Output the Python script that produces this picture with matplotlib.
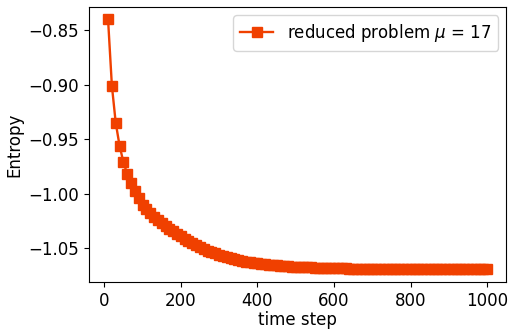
import matplotlib
matplotlib.use('Agg')
import matplotlib.pyplot as plt
import numpy as np

# time steps and entropy values
steps = np.arange(10, 1001, 10)
entropy = [
    -0.8400, -0.9010, -0.9350, -0.9560, -0.9710, -0.9820, -0.9905, -0.9980, -1.0045, -1.0108,
    -1.0145, -1.0180, -1.0213, -1.0243, -1.0272, -1.0299, -1.0324, -1.0347, -1.0369, -1.0390,
    -1.0414, -1.0437, -1.0457, -1.0476, -1.0494, -1.0510, -1.0525, -1.0538, -1.0551, -1.0563,
    -1.0574, -1.0585, -1.0594, -1.0603, -1.0611, -1.0618, -1.0625, -1.0631, -1.0637, -1.0642,
    -1.0646, -1.0651, -1.0654, -1.0658, -1.0661, -1.0664, -1.0667, -1.0669, -1.0672, -1.0674,
    -1.0676, -1.0677, -1.0679, -1.0680, -1.0681, -1.0683, -1.0684, -1.0685, -1.0686, -1.0687,
    -1.0688, -1.0688, -1.0689, -1.0690, -1.0690, -1.0691, -1.0691, -1.0692, -1.0692, -1.0693,
    -1.0693, -1.0693, -1.0694, -1.0694, -1.0694, -1.0695, -1.0695, -1.0695, -1.0695, -1.0696,
    -1.0696, -1.0696, -1.0696, -1.0696, -1.0696, -1.0697, -1.0697, -1.0697, -1.0697, -1.0697,
    -1.0697, -1.0697, -1.0697, -1.0698, -1.0698, -1.0698, -1.0698, -1.0698, -1.0698, -1.0698,
]
label = r'reduced problem $\mu$ = 17'

fig = plt.figure(figsize=(5.15, 3.29), dpi=100)
ax = fig.add_axes([0.173, 0.143, 0.81, 0.836])

ax.plot(steps, entropy, marker='s', color='#f04000', linewidth=1.7, markersize=6.5, label=label)

ax.set_xlabel('time step', fontsize=12, labelpad=1)
ax.set_ylabel('Entropy', fontsize=12)
ax.tick_params(labelsize=12)
ax.set_xticks([0, 200, 400, 600, 800, 1000])
ax.set_yticks([-0.85, -0.90, -0.95, -1.00, -1.05])
ax.legend(loc='upper right', fontsize=12)

plt.savefig('out.png', dpi=100)
plt.close()
